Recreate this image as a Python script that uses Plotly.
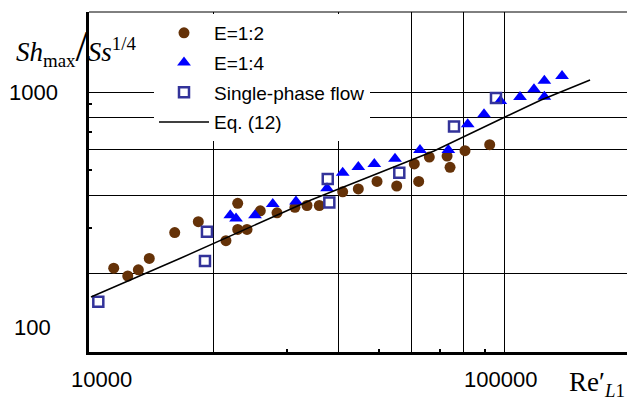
import math
import plotly.graph_objects as go

# ---- data ----
e12_re = [11470, 12400, 13150, 13970, 16090, 18340, 21380, 22820, 24030, 22820,
          25870, 28380, 31350, 33520, 35890, 40860, 44560, 49430, 55140, 60790,
          62290, 66070, 72920, 74130, 80540, 92380]
e12_sh = [210, 196, 207, 229, 288, 317, 268, 296, 296, 373,
          349, 343, 360, 366, 366, 413, 424, 453, 435, 529,
          453, 562, 567, 513, 595, 627]

e14_re = [21900, 22610, 25120, 27720, 31530, 37460, 40860, 44560, 48700, 54620,
          62740, 73440, 81760, 89500, 97970, 109300, 118100, 125100, 125100, 138000]
e14_sh = [336, 326, 336, 371, 379, 426, 489, 515, 529, 554,
          598, 598, 752, 822, 923, 957, 1024, 1105, 959, 1152]

sp_re = [10530, 19240, 19030, 37610, 37940, 55940, 75780, 95660]
sp_sh = [156, 290, 224, 463, 376, 489, 736, 948]

eq_re = [10110, 16660, 34270, 67810, 100550, 122800, 161200]
eq_sh = [162.7, 229.9, 384.4, 593.0, 801.4, 931.6, 1112]

xgrid_vals = [10000, 20000, 40000, 60000, 80000, 100000]
xminor_vals = [30000, 50000, 70000, 90000]
ygrid_vals = [100, 200, 400, 600, 800, 1000]
yminor_vals = [300, 500, 700, 900]

xtick_vals = [10000, 100000]
xtick_text = ["10000", "100000"]
ytick_vals = [1000, 100]
ytick_text = ["1000", "100"]

names = ["E=1:2", "E=1:4", "Single-phase flow", "Eq. (12)"]

# ---- figure ----
W, H = 627, 401
ML, MR, MT, MB = 89, 0, 12, 49
plot_w = W - ML - MR
plot_h = H - MT - MB
x_lo = 4.0
x_hi = 4.0 + plot_w / 415.0
y_lo = 2.0
y_hi = 2.0 + plot_h / 260.0

fig = go.Figure()
fig.add_trace(go.Scatter(x=e12_re, y=e12_sh, mode="markers", name=names[0],
                         legendgroup="a",
                         marker=dict(symbol="circle", size=11, color="#653208")))
fig.add_trace(go.Scatter(x=e14_re, y=e14_sh, mode="markers", name=names[1],
                         legendgroup="b",
                         marker=dict(symbol="triangle-up", size=12, color="#0000FF")))
fig.add_trace(go.Scatter(x=sp_re, y=sp_sh, mode="markers", name=names[2],
                         legendgroup="c",
                         marker=dict(symbol="square-open", size=10, color="#33339A",
                                     line=dict(width=2.5, color="#33339A"))))
fig.add_trace(go.Scatter(x=eq_re, y=eq_sh, mode="lines", name=names[3],
                         legendgroup="d",
                         line=dict(color="black", width=1.5)))

axis_common = dict(showline=True, linecolor="black", linewidth=3,
                   showgrid=True, gridcolor="black", gridwidth=1,
                   zeroline=False, ticks="", showticklabels=False)

fig.update_xaxes(type="log", range=[x_lo, x_hi], tickmode="array", tickvals=xgrid_vals,
                 minor=dict(tickmode="array", tickvals=xminor_vals, ticks="inside",
                            ticklen=3, tickwidth=2, tickcolor="black", showgrid=False),
                 **axis_common)
fig.update_yaxes(type="log", range=[y_lo, y_hi], tickmode="array", tickvals=ygrid_vals,
                 minor=dict(tickmode="array", tickvals=yminor_vals, ticks="inside",
                            ticklen=3, tickwidth=2, tickcolor="black", showgrid=False),
                 **axis_common)

annotations = []
tick_font = dict(family="Liberation Sans, Arial, sans-serif", size=22, color="black")
xshift_list = [12, -4]
for v, t, sh in zip(xtick_vals, xtick_text, xshift_list):
    annotations.append(dict(x=math.log10(v), y=-(379 - (H - MB)) / plot_h, xref="x", yref="paper",
                            text=t, showarrow=False, font=tick_font,
                            xanchor="center", yanchor="middle", xshift=sh))
yshift_list = [0, 25]
for v, t, sh in zip(ytick_vals, ytick_text, yshift_list):
    annotations.append(dict(x=0, y=math.log10(v), xref="paper", yref="y",
                            text=t, showarrow=False, font=tick_font,
                            xanchor="right", yanchor="middle", xshift=-29 if v == 1000 else -36,
                            yshift=sh))

serif = "Liberation Serif, Times New Roman, serif"
annotations.append(dict(
    x=-(ML - 14) / plot_w, y=(H - MB - 47) / plot_h, xref="paper", yref="paper",
    xanchor="left", yanchor="middle", showarrow=False,
    text="<i>Sh</i><sub>max</sub><span style='font-size:44px'>/</span><i>Ss</i><sup>1/4</sup>",
    font=dict(family=serif, size=27, color="black")))
annotations.append(dict(
    x=1.0, y=-(384 - (H - MB)) / plot_h, xref="paper", yref="paper",
    xanchor="right", yanchor="middle", showarrow=False,
    text="Re′<sub><i>L</i>1</sub>",
    font=dict(family=serif, size=27, color="black")))

shapes = [dict(type="line", xref="paper", yref="paper", x0=0, x1=1, y0=1, y1=1,
               line=dict(color="black", width=1))]

fig.update_layout(
    width=W, height=H,
    margin=dict(l=ML, r=MR, t=MT, b=MB, pad=0),
    paper_bgcolor="white", plot_bgcolor="white",
    showlegend=True,
    legend=dict(x=(154 - ML) / plot_w, y=(H - MB - 14) / plot_h, xanchor="left", yanchor="top",
                bgcolor="white", borderwidth=0, tracegroupgap=2,
                font=dict(family="Liberation Sans, Arial, sans-serif", size=19, color="black"),
                itemwidth=50),
    annotations=annotations,
    shapes=shapes,
)

fig.write_html("out.html")
